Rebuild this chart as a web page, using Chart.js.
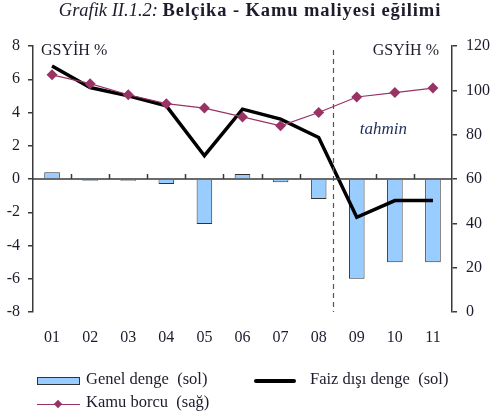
<!DOCTYPE html>
<html>
<head>
<meta charset="utf-8">
<script src="https://cdn.jsdelivr.net/npm/chart.js@4/dist/chart.umd.min.js"></script>
<style>
  body { margin: 0; background: #fff; font-family: 'Liberation Serif', 'DejaVu Serif', serif; color: #1c1c2c; }
  #wrap { position: relative; width: 496px; height: 417px; }
  canvas { position: absolute; left: 0; top: 0; }
  .txt { position: absolute; white-space: nowrap; }
  #title { left: 0; width: 500px; top: 0px; text-align: center; font-size: 18.5px; }
  #title i { font-weight: normal; }
  #title b { letter-spacing: 0.9px; }
  .leg { font-size: 16.5px; }
  .sw { position: absolute; }
</style>
</head>
<body>
<div id="wrap">
  <canvas id="chart" width="496" height="417"></canvas>
  <div id="title" class="txt"><i>Grafik II.1.2:</i> <b>Belçika - Kamu maliyesi eğilimi</b></div>

  <div class="sw" style="left:37px;top:377px;width:41px;height:6px;background:#99ccff;border:1px solid #333;"></div>
  <div class="txt leg" style="left:86px;top:369px;">Genel denge&nbsp; (sol)</div>
  <div class="sw" style="left:254px;top:379px;width:42px;height:4px;background:#000;border-radius:2px;"></div>
  <div class="txt leg" style="left:310px;top:369px;">Faiz dışı denge&nbsp; (sol)</div>
  <div class="sw" style="left:37px;top:404px;width:43px;height:1px;background:#993366;"></div>
  <div class="sw" style="left:55px;top:401px;width:6px;height:6px;background:#993366;transform:rotate(45deg);"></div>
  <div class="txt leg" style="left:86px;top:392px;">Kamu borcu&nbsp; (sağ)</div>
</div>
<script>
// veriler
const years = ['01', '02', '03', '04', '05', '06', '07', '08', '09', '10', '11'];
const genelDenge = [0.4, -0.1, -0.1, -0.3, -2.7, 0.3, -0.2, -1.2, -6.0, -5.0, -5.0];
const faizDisiDenge = [6.8, 5.5, 5.0, 4.4, 1.4, 4.2, 3.6, 2.5, -2.3, -1.3, -1.3];
const kamuBorcu = [107, 103, 98, 94, 92, 88, 84, 90, 97, 99, 101];
const leftTicks = [-8, -6, -4, -2, 0, 2, 4, 6, 8];
const rightTicks = [0, 20, 40, 60, 80, 100, 120];

const serif = "'Liberation Serif', 'DejaVu Serif', serif";
const inkColor = '#1c1c2c';
const axisColor = '#3a3a3a';

// sıfır çizgisi, kesikli çizgi ve yazılar
const extras = {
    id: 'extras',
    afterDatasetsDraw(chart) {
        const { ctx, chartArea: a, scales } = chart;
        const x = scales.x, y = scales.y;
        const y0 = y.getPixelForValue(0);
        const step = x.getPixelForValue(1) - x.getPixelForValue(0);
        ctx.save();
        ctx.strokeStyle = axisColor;
        ctx.lineWidth = 1.5;
        ctx.beginPath();
        ctx.moveTo(a.left, y0);
        ctx.lineTo(a.right, y0);
        for (let i = 1; i < years.length; i++) {
            if (i === 8) continue;
            const px = Math.round(x.getPixelForValue(i) - step / 2) + 0.5;
            ctx.moveTo(px, y0);
            ctx.lineTo(px, y0 - 5);
        }
        ctx.stroke();

        // tahmin ayırıcı
        const dx = Math.round(x.getPixelForValue(7) + step * 0.37) + 0.5;
        ctx.setLineDash([5, 4]);
        ctx.lineWidth = 1.2;
        ctx.strokeStyle = '#555';
        ctx.beginPath();
        ctx.moveTo(dx, a.top + 4);
        ctx.lineTo(dx, a.bottom);
        ctx.stroke();
        ctx.setLineDash([]);

        ctx.fillStyle = inkColor;
        ctx.font = '16px ' + serif;
        ctx.textBaseline = 'alphabetic';
        ctx.textAlign = 'left';
        ctx.fillText('GSYİH %', a.left + 8, a.top + 9);
        ctx.textAlign = 'right';
        ctx.fillText('GSYİH %', a.right - 13, a.top + 9);

        ctx.font = 'italic 17px ' + serif;
        ctx.textAlign = 'center';
        ctx.textBaseline = 'middle';
        ctx.fillStyle = '#1f2d5a';
        ctx.fillText('tahmin', x.getPixelForValue(8) + step * 0.7, y.getPixelForValue(2.95));
        ctx.restore();
    }
};

new Chart(document.getElementById('chart'), {
    type: 'bar',
    data: {
        labels: years,
        datasets: [
            {
                label: 'Kamu borcu (sağ)',
                type: 'line',
                data: kamuBorcu,
                yAxisID: 'y1',
                borderColor: '#993366',
                backgroundColor: '#993366',
                borderWidth: 1.2,
                pointStyle: 'rectRot',
                pointRadius: 5.5,
                pointBorderWidth: 0,
                tension: 0,
                order: 0
            },
            {
                label: 'Faiz dışı denge (sol)',
                type: 'line',
                data: faizDisiDenge,
                yAxisID: 'y',
                borderColor: '#000',
                borderWidth: 3.5,
                pointRadius: 0,
                tension: 0,
                order: 1
            },
            {
                label: 'Genel denge (sol)',
                data: genelDenge,
                yAxisID: 'y',
                backgroundColor: '#99ccff',
                borderColor: '#333',
                borderWidth: 1,
                barPercentage: 0.41,
                categoryPercentage: 1,
                order: 2
            }
        ]
    },
    plugins: [extras],
    options: {
        responsive: false,
        animation: false,
        layout: { padding: { top: 46, left: 0, right: 0, bottom: 65 } },
        plugins: { legend: { display: false }, tooltip: { enabled: false } },
        scales: {
            x: {
                grid: { display: false, drawTicks: false },
                border: { display: false },
                ticks: { font: { family: serif, size: 16 }, color: inkColor, padding: 16 },
                afterFit(s) { s.height = 40; }
            },
            y: {
                position: 'left',
                min: -8, max: 8,
                afterBuildTicks(s) { s.ticks = leftTicks.map(v => ({ value: v })); },
                grid: { drawOnChartArea: false, drawTicks: true, tickLength: 5, color: axisColor, lineWidth: 1.5 },
                border: { display: true, color: axisColor, width: 1.5 },
                ticks: { font: { family: serif, size: 16 }, color: inkColor, padding: 8 },
                afterFit(s) { s.width = 33; }
            },
            y1: {
                position: 'right',
                min: 0, max: 120,
                afterBuildTicks(s) { s.ticks = rightTicks.map(v => ({ value: v })); },
                grid: { drawOnChartArea: false, drawTicks: true, tickLength: 5, color: axisColor, lineWidth: 1.5 },
                border: { display: true, color: axisColor, width: 1.5 },
                ticks: { font: { family: serif, size: 16 }, color: inkColor, padding: 9 },
                afterFit(s) { s.width = 44; }
            }
        }
    }
});
</script>
</body>
</html>
